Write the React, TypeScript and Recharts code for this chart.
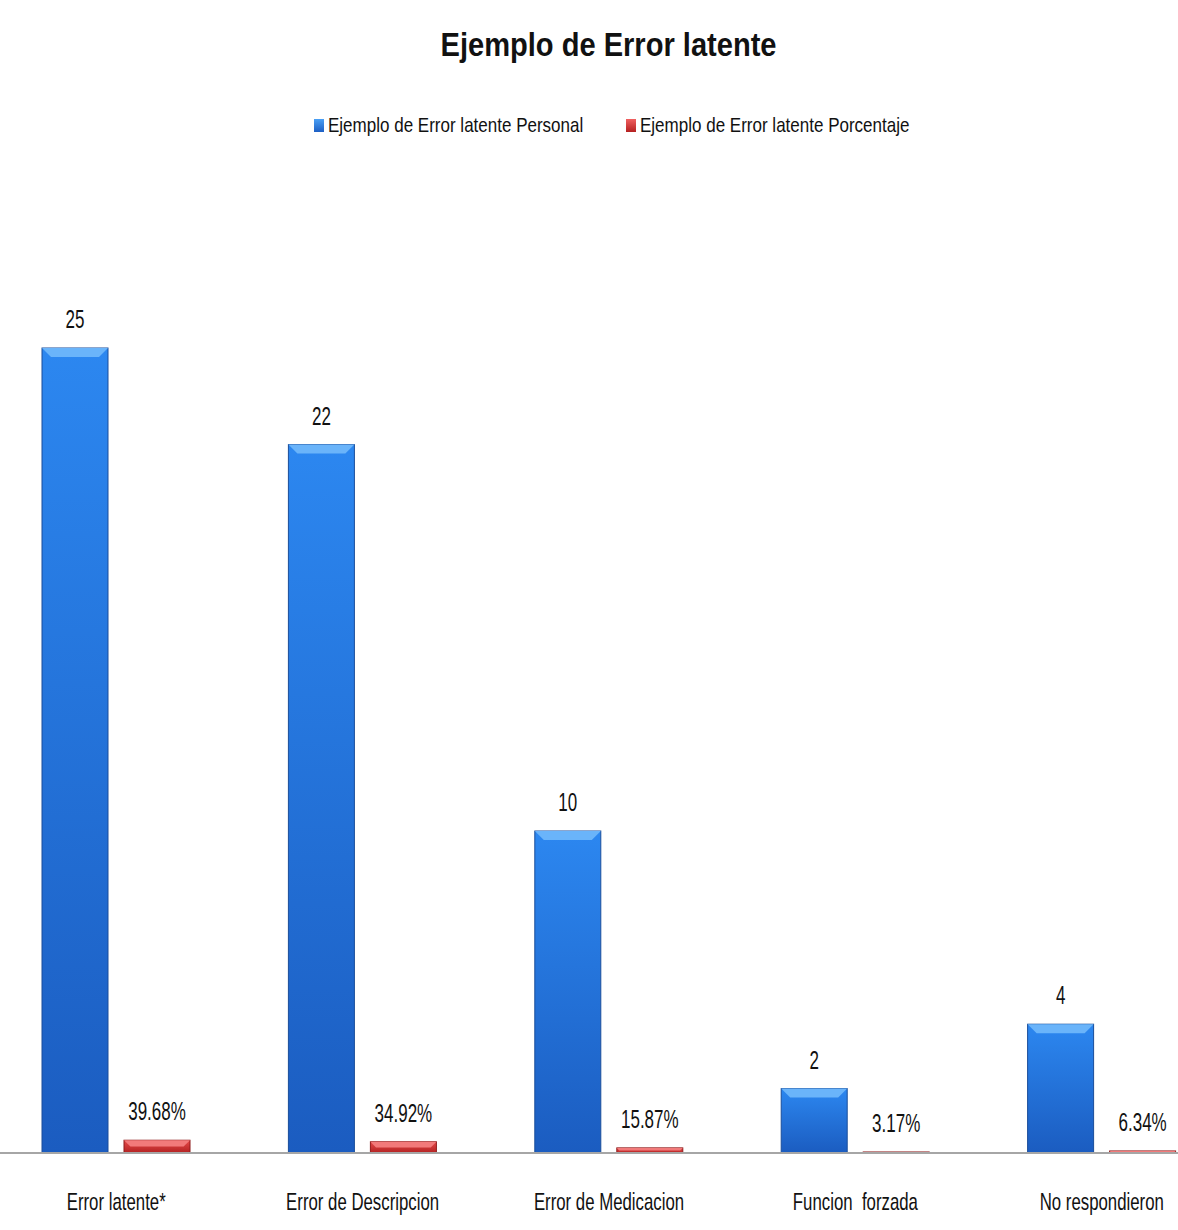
import React from 'react';
import { BarChart, Bar, XAxis, YAxis, LabelList } from 'recharts';

const categories = ['Error latente*', 'Error de Descripcion', 'Error de Medicacion', 'Funcion  forzada', 'No respondieron'];
const personal = [25, 22, 10, 2, 4];
const porcentaje = [0.3968, 0.3492, 0.1587, 0.0317, 0.0634];
const seriesNames = ['Ejemplo de Error latente Personal', 'Ejemplo de Error latente Porcentaje'];

const data = categories.map((name, i) => ({
  name,
  personal: personal[i],
  porcentaje: porcentaje[i],
}));

// no condensed font installed, so squeeze Liberation Sans horizontally
const FONT = '"Liberation Sans", Arial, sans-serif';

const BevelBar = (props: any) => {
  const { x, y, width, height, fill, edge, light } = props;
  if (!height || height <= 0) return null;
  const b = Math.min(9, height / 2);
  return (
    <g>
      <rect x={x} y={y} width={width} height={height} fill={fill} stroke={edge} strokeWidth={1} />
      <polygon
        points={`${x},${y} ${x + width},${y} ${x + width - b},${y + b} ${x + b},${y + b}`}
        fill={light}
      />
    </g>
  );
};

const Tick = (props: any) => {
  const { x, y, payload } = props;
  return (
    <text
      transform={`translate(${x},${y + 49}) scale(0.7,1)`}
      textAnchor="middle"
      fontFamily={FONT}
      fontSize={24}
      fill="#111"
      style={{ whiteSpace: 'pre' }}
    >
      {payload.value}
    </text>
  );
};

const valueLabel = (fmt: (v: number) => string) => (props: any) => {
  const { x, y, width, value } = props;
  return (
    <text
      transform={`translate(${x + width / 2},${y - 20}) scale(0.68,1)`}
      textAnchor="middle"
      fontFamily={FONT}
      fontSize={25}
      fill="#111"
    >
      {fmt(value)}
    </text>
  );
};

const legendItem = (label: string, grad: string, left: number) => (
  <div style={{ position: 'absolute', top: 113, left, display: 'flex', alignItems: 'center' }}>
    <span style={{ width: 10, height: 13, background: grad, display: 'inline-block', marginRight: 4 }} />
    <span style={{ display: 'inline-block', fontFamily: FONT, fontSize: 21, color: '#111', transform: 'scaleX(0.81)', transformOrigin: 'left center', whiteSpace: 'nowrap' }}>
      {label}
    </span>
  </div>
);

export default function App() {
  return (
    <div style={{ width: 1178, height: 1230, position: 'absolute', left: 0, top: 0, overflow: 'hidden', background: '#fff' }}>
      <div style={{ position: 'absolute', top: 25, left: 0, width: 1216, textAlign: 'center' }}>
        <span style={{ display: 'inline-block', fontFamily: FONT, fontWeight: 'bold', fontSize: 34, color: '#111', transform: 'scaleX(0.855)' }}>
          Ejemplo de Error latente
        </span>
      </div>
      {legendItem(seriesNames[0], 'linear-gradient(#4aa0f5, #1d5fc4)', 314)}
      {legendItem(seriesNames[1], 'linear-gradient(#f06060, #b52020)', 626)}
      <div style={{ position: 'absolute', left: -7, top: 0, width: 1232, height: 1230 }}>
        <BarChart
          width={1232}
          height={1230}
          data={data}
          margin={{ top: 187, right: 0, bottom: 47, left: 0 }}
          barCategoryGap={49}
          barGap={16}
        >
          <defs>
            <linearGradient id="blueGrad" x1="0" y1="0" x2="0" y2="1">
              <stop offset="0%" stopColor="#2c87f0" />
              <stop offset="100%" stopColor="#1b5cc0" />
            </linearGradient>
            <linearGradient id="redGrad" x1="0" y1="0" x2="0" y2="1">
              <stop offset="0%" stopColor="#e44a4a" />
              <stop offset="100%" stopColor="#b32222" />
            </linearGradient>
          </defs>
          <XAxis dataKey="name" axisLine={{ stroke: '#a6a6a6', strokeWidth: 2 }} tickLine={false} tick={<Tick />} interval={0} />
          <YAxis hide domain={[0, 30]} />
          <Bar
            dataKey="personal"
            name={seriesNames[0]}
            barSize={66}
            fill="url(#blueGrad)"
            isAnimationActive={false}
            shape={(p: any) => <BevelBar {...p} fill="url(#blueGrad)" edge="#1a4d9a" light="#6ab4fa" />}
          >
            <LabelList dataKey="personal" content={valueLabel((v) => String(v))} />
          </Bar>
          <Bar
            dataKey="porcentaje"
            name={seriesNames[1]}
            barSize={66}
            fill="url(#redGrad)"
            isAnimationActive={false}
            shape={(p: any) => <BevelBar {...p} fill="url(#redGrad)" edge="#8e1b1b" light="#f27a7a" />}
          >
            <LabelList dataKey="porcentaje" content={valueLabel((v) => (v * 100).toFixed(2) + '%')} />
          </Bar>
        </BarChart>
      </div>
    </div>
  );
}
